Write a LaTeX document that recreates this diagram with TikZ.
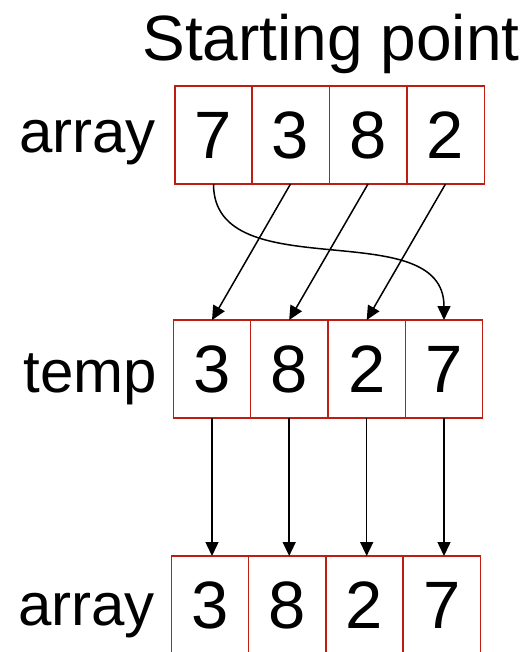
\documentclass[tikz,border=0pt]{standalone}
\usepackage{fontspec}
\setmainfont{Liberation Sans}
\usetikzlibrary{arrows.meta}
\definecolor{boxred}{RGB}{190,30,18}
\tikzset{
  cell/.style={draw=boxred, line width=1.5pt, minimum width=77.3pt, minimum height=98pt,
    inner sep=0pt, outer sep=0pt, font=\fontsize{67}{70}\selectfont},
  lbl/.style={anchor=base east, inner sep=0pt, font=\fontsize{60}{64}\selectfont},
  conn/.style={line width=1.5pt, -{Triangle[length=14pt,width=13pt]}}
}
\begin{document}
\begin{tikzpicture}[x=1pt,y=-1pt]
\useasboundingbox (0,0) rectangle (529,652);
\clip (0,0) rectangle (529,652);
\node[anchor=base, inner sep=0pt, font=\fontsize{64}{68}\selectfont] (title) at (331,61) {Starting point};
% top row
\node[lbl] (la) at (156,153) {array};
\node[cell, minimum width=77.5pt] (t1) at (213.5,135) {7};
\node[cell, minimum width=77.5pt] (t2) at (290.5,135) {3};
\node[cell, minimum width=77.5pt] (t3) at (368,135) {8};
\node[cell, minimum width=77.5pt] (t4) at (445.5,135) {2};
% middle row
\node[lbl] (lt) at (157,392) {temp};
\node[cell] (m1) at (212,369) {3};
\node[cell] (m2) at (289.2,369) {8};
\node[cell] (m3) at (366.7,369) {2};
\node[cell] (m4) at (444,369) {7};
% bottom row
\node[lbl] (lb) at (155,625) {array};
\node[cell] (b1) at (210,605) {3};
\node[cell] (b2) at (287,605) {8};
\node[cell] (b3) at (364.5,605) {2};
\node[cell] (b4) at (442,605) {7};
% arrows top -> middle
\draw[conn] (t2.south) -- (m1.north);
\draw[conn] (t3.south) -- (m2.north);
\draw[conn] (t4.south) -- (m3.north);
\draw[conn] (t1.south) .. controls (213.5,290) and (444,212) .. (m4.north);
% arrows middle -> bottom
\draw[conn] (m1.south) -- (m1.south |- b1.north);
\draw[conn] (m2.south) -- (m2.south |- b2.north);
\draw[conn] (m3.south) -- (m3.south |- b3.north);
\draw[conn] (m4.south) -- (m4.south |- b4.north);
\end{tikzpicture}
\end{document}
